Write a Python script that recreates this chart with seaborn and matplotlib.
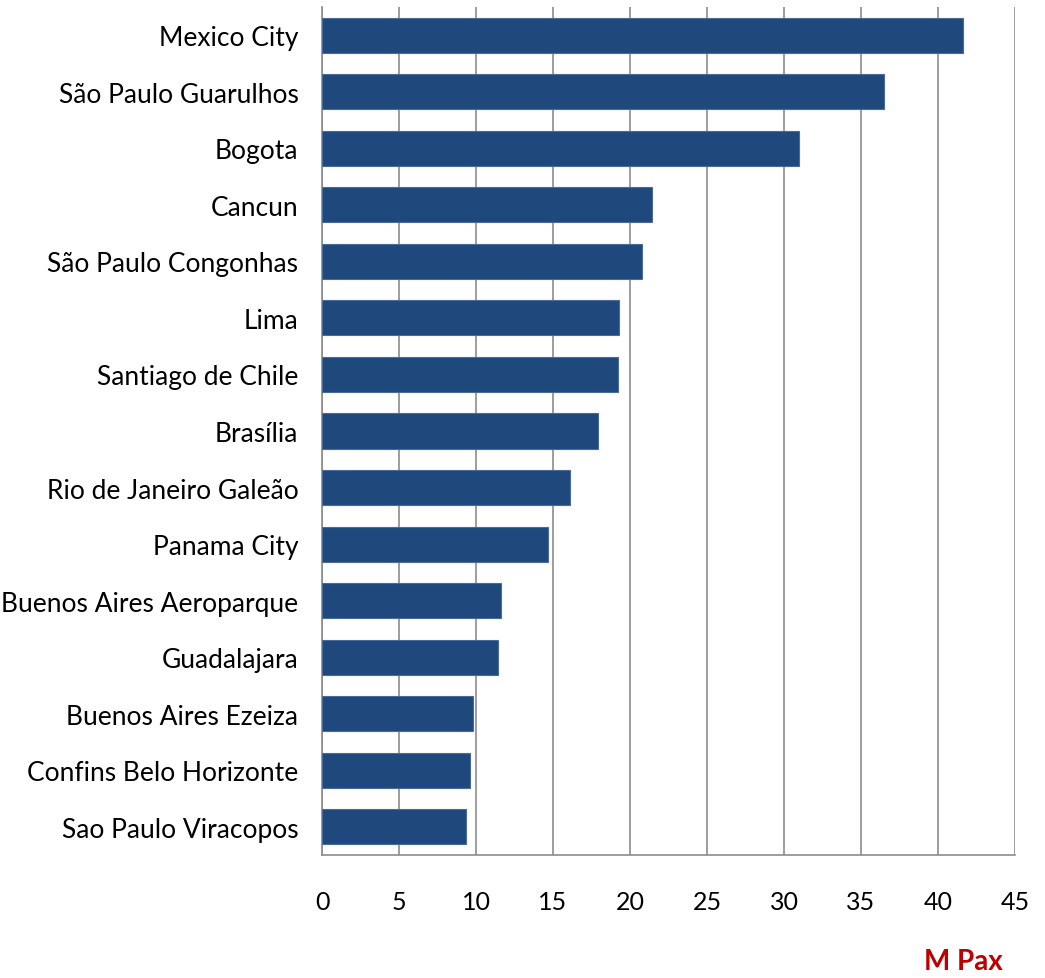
import numpy as np
import matplotlib.pyplot as plt
import seaborn as sns
import pandas as pd

airports = ["Mexico City", "São Paulo Guarulhos", "Bogota", "Cancun",
            "São Paulo Congonhas", "Lima", "Santiago de Chile", "Brasília",
            "Rio de Janeiro Galeão", "Panama City", "Buenos Aires Aeroparque",
            "Guadalajara", "Buenos Aires Ezeiza", "Confins Belo Horizonte",
            "Sao Paulo Viracopos"]
mpax = [41.6, 36.5, 31.0, 21.4, 20.8, 19.3, 19.2, 17.9, 16.1, 14.7,
        11.6, 11.4, 9.8, 9.6, 9.35]
xticks = [0, 5, 10, 15, 20, 25, 30, 35, 40, 45]

df = pd.DataFrame({"airport": airports, "mpax": mpax})

sns.set_style("white")
plt.rcParams['font.family'] = ['Lato', 'DejaVu Sans']

fig = plt.figure(figsize=(10.45, 9.79), dpi=100)
ax = fig.add_axes([322 / 1045, 1 - 856 / 979, (1015 - 322) / 1045, (856 - 8) / 979])

sns.barplot(data=df, x="mpax", y="airport", color="#1F497D", saturation=1,
            width=0.62, edgecolor="#4A6A9A", linewidth=0.8, ax=ax, zorder=3)

ax.set_xlim(0, 45)
ax.set_ylim(len(airports) - 0.5, -0.5)
ax.set_xticks(xticks)
ax.set_xticklabels([str(t) for t in xticks])
ax.xaxis.grid(True, color="#8c8c8c", linewidth=1.2, zorder=0)
ax.set_axisbelow(True)

ax.set_yticks(np.arange(len(airports)) + 0.5, minor=True)
ax.tick_params(axis="y", which="major", length=0, pad=17, labelsize=19,
               labelcolor="black")
ax.tick_params(axis="y", which="minor", length=7, width=1.2, color="#8c8c8c", direction="out")
ax.tick_params(axis="x", which="major", length=7, width=1.2, color="#8c8c8c",
               direction="out", pad=18, labelsize=18, labelcolor="black")

for s in ["top", "right"]:
    ax.spines[s].set_visible(False)
for s in ["left", "bottom"]:
    ax.spines[s].set_color("#8c8c8c")
    ax.spines[s].set_linewidth(1.2)

ax.set_xlabel("")
ax.set_ylabel("")

fig.text(963 / 1045, 1 - 962 / 979, "M Pax", color="#C00000", fontsize=20,
         fontweight="bold", ha="center", va="center")

fig.savefig("out.png", dpi=100)
